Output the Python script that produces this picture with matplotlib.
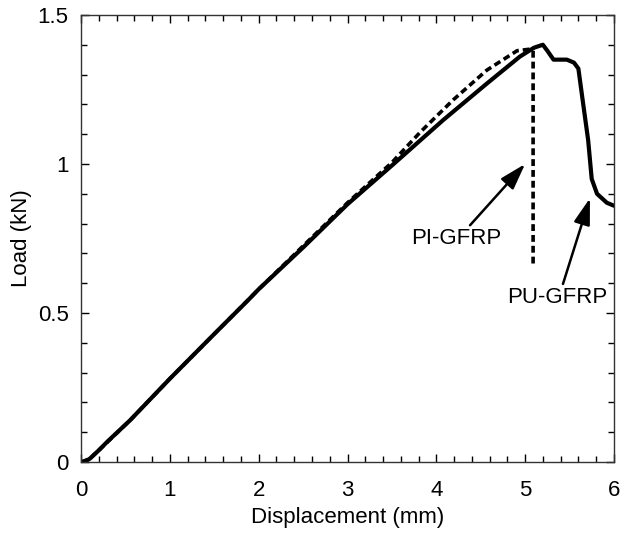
import matplotlib
matplotlib.use('Agg')
import matplotlib.pyplot as plt
from matplotlib.ticker import MultipleLocator

plt.rcParams['font.family'] = ['Liberation Sans', 'DejaVu Sans']

# PU-GFRP (trait plein)
disp_pu = [0, 0.05, 0.1, 0.2, 0.3, 0.55, 1.0, 1.5, 1.87, 2.0, 2.5, 3.0, 3.5, 4.08, 4.57,
           4.94, 5.1, 5.2, 5.25, 5.32, 5.47, 5.55, 5.6, 5.65, 5.71, 5.75, 5.81, 5.92, 6.0]
load_pu = [0, 0.003, 0.012, 0.04, 0.07, 0.14, 0.28, 0.43, 0.54, 0.58, 0.72, 0.865, 0.995, 1.148, 1.27,
           1.36, 1.39, 1.40, 1.38, 1.35, 1.35, 1.34, 1.32, 1.21, 1.08, 0.95, 0.90, 0.87, 0.86]

# PI-GFRP (pointille)
disp_pi = [0, 0.1, 0.2, 0.55, 1.0, 1.5, 2.0, 2.5, 3.0, 3.5, 3.82, 4.19, 4.57, 4.91, 5.05, 5.09, 5.09]
load_pi = [0, 0.012, 0.04, 0.14, 0.28, 0.43, 0.58, 0.725, 0.87, 1.005, 1.107, 1.215, 1.315, 1.38,
           1.385, 1.38, 0.665]

fig = plt.figure(figsize=(6.29, 5.33), dpi=100)
ax = fig.add_axes([0.129, 0.133, 0.847, 0.839])

ax.plot(disp_pi, load_pi, color='black', lw=2.6, linestyle=(0, (1.9, 1.1)))
ax.plot(disp_pu, load_pu, color='black', lw=3, solid_capstyle='round', solid_joinstyle='round')

ax.set_xlim(0, 6)
ax.set_ylim(0, 1.5)
ax.set_xticks([0, 1, 2, 3, 4, 5, 6])
ax.set_yticks([0, 0.5, 1, 1.5])
ax.set_yticklabels(['0', '0.5', '1', '1.5'])
ax.xaxis.set_minor_locator(MultipleLocator(0.2))
ax.yaxis.set_minor_locator(MultipleLocator(0.1))
ax.tick_params(which='both', direction='in', top=True, right=True, labelsize=16)
ax.tick_params(axis='x', pad=13)
ax.tick_params(axis='y', pad=9)
ax.tick_params(which='major', length=6, width=1)
ax.tick_params(which='minor', length=4, width=1)
for s in ax.spines.values():
    s.set_linewidth(1)
    s.set_color('#333333')

ax.set_xlabel('Displacement (mm)', fontsize=16, labelpad=4)
ax.set_ylabel('Load (kN)', fontsize=16, labelpad=4)

arrow = dict(arrowstyle='-|>,head_length=0.8,head_width=0.25', color='black', lw=1.8,
             mutation_scale=20, shrinkA=0, shrinkB=0)
ax.annotate('PI-GFRP', xy=(5.0, 1.0), xytext=(4.23, 0.75), fontsize=16,
            ha='center', va='center', arrowprops=dict(arrow, relpos=(0.62, 1.0)))
ax.annotate('PU-GFRP', xy=(5.73, 0.885), xytext=(5.36, 0.553), fontsize=16,
            ha='center', va='center', arrowprops=dict(arrow, relpos=(0.55, 1.0)))

plt.savefig('out.png', dpi=100)
